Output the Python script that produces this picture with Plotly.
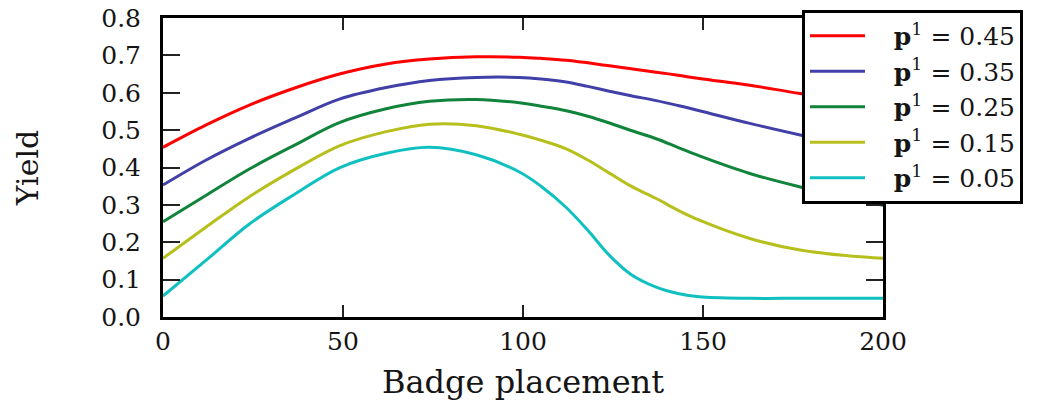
import plotly.graph_objects as go

# Badge placement positions (x) shared by all series
placement = [0, 12, 24, 37, 49, 62, 74, 87, 99, 105, 112, 118, 124, 130, 137, 143, 149, 163, 177, 191, 200]

yield_045 = [0.454, 0.514, 0.567, 0.614, 0.650, 0.677, 0.690, 0.696, 0.695, 0.692, 0.687, 0.680, 0.672, 0.664, 0.655, 0.647, 0.638, 0.620, 0.598, 0.580, 0.567]
yield_035 = [0.353, 0.420, 0.478, 0.534, 0.583, 0.614, 0.633, 0.641, 0.641, 0.637, 0.629, 0.617, 0.604, 0.592, 0.579, 0.566, 0.552, 0.518, 0.487, 0.460, 0.440]
yield_025 = [0.255, 0.326, 0.396, 0.462, 0.520, 0.557, 0.577, 0.582, 0.573, 0.564, 0.552, 0.537, 0.519, 0.499, 0.477, 0.454, 0.431, 0.384, 0.348, 0.317, 0.299]
yield_015 = [0.157, 0.241, 0.322, 0.397, 0.458, 0.496, 0.516, 0.512, 0.489, 0.473, 0.450, 0.420, 0.385, 0.350, 0.317, 0.286, 0.259, 0.210, 0.179, 0.163, 0.157]
yield_005 = [0.056, 0.152, 0.249, 0.331, 0.399, 0.438, 0.454, 0.434, 0.388, 0.350, 0.293, 0.232, 0.165, 0.114, 0.080, 0.063, 0.054, 0.050, 0.050, 0.050, 0.050]

labels = ["0.45", "0.35", "0.25", "0.15", "0.05"]
series = [yield_045, yield_035, yield_025, yield_015, yield_005]
colors = ["#FF0000", "#4040A8", "#10843A", "#B6BF1C", "#10C0C0"]

y_ticks = [0.0, 0.1, 0.2, 0.3, 0.4, 0.5, 0.6, 0.7, 0.8]
x_ticks = [0, 50, 100, 150, 200]

FONT = "DejaVu Serif"
GAP = "\u00a0\u00a0\u00a0"

fig = go.Figure()
for lab, ys, col in zip(labels, series, colors):
    fig.add_trace(go.Scatter(
        x=placement, y=ys, mode="lines",
        line=dict(color=col, width=3, shape="spline", smoothing=1.0),
        name=f"{GAP}<b>p</b><sup>1</sup> = {lab}",
    ))

fig.update_layout(
    width=1040, height=405,
    margin=dict(l=163, r=157, t=18, b=88, autoexpand=False),
    paper_bgcolor="white", plot_bgcolor="white",
    font=dict(family=FONT, size=24, color="#151515"),
    showlegend=True,
    legend=dict(
        x=0.8875, xanchor="left", y=1.027, yanchor="top",
        bgcolor="white", bordercolor="black", borderwidth=3,
        font=dict(family=FONT, size=25, color="#151515"),
        itemwidth=55, tracegroupgap=0,
    ),
)
fig.update_xaxes(
    range=[0, 200], tickvals=x_ticks, ticktext=[str(v) for v in x_ticks],
    showline=True, linecolor="black", linewidth=3, mirror="ticks",
    ticks="inside", ticklen=12, tickwidth=2, tickcolor="#222222",
    showgrid=False, zeroline=False,
    tickfont=dict(family=FONT, size=25),
    title=dict(text="Badge placement", font=dict(family=FONT, size=32), standoff=16),
)
fig.update_yaxes(
    range=[0, 0.8], tickvals=y_ticks, ticktext=[f"{v:.1f}" for v in y_ticks],
    showline=True, linecolor="black", linewidth=3, mirror="ticks",
    ticks="inside", ticklen=17, tickwidth=2, tickcolor="#222222",
    showgrid=False, zeroline=False,
    tickfont=dict(family=FONT, size=25), ticklabelstandoff=14,
    title=dict(text="Yield", font=dict(family=FONT, size=30), standoff=54),
)

fig.write_html("out.html", config={"displayModeBar": False},
               post_script="document.body.style.margin='0px';")
